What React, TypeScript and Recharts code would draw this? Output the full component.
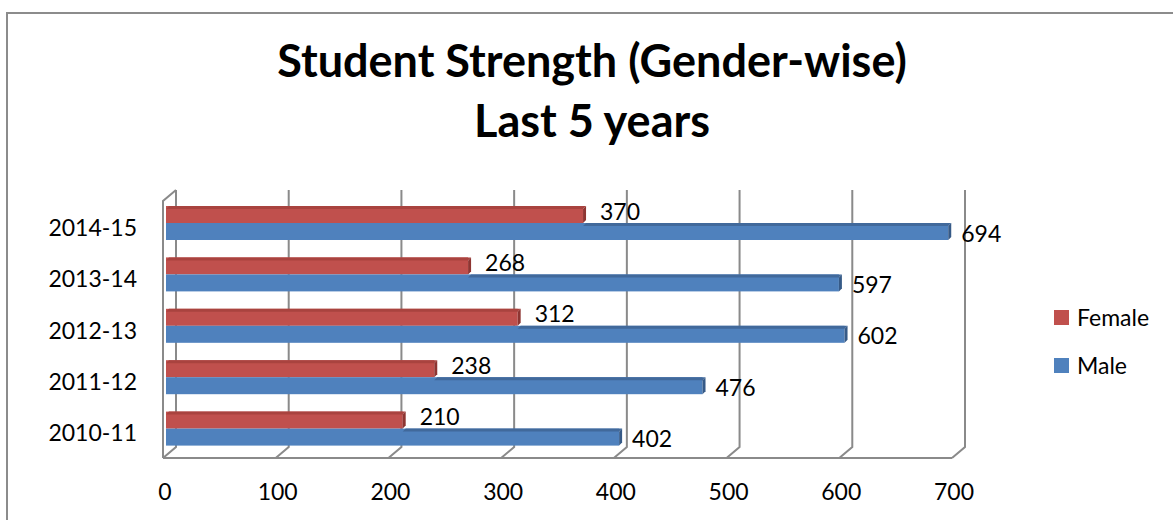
import React from 'react';
import { BarChart, Bar, XAxis, YAxis, CartesianGrid, LabelList } from 'recharts';

const years = ['2010-11', '2011-12', '2012-13', '2013-14', '2014-15'];
const female = [210, 238, 312, 268, 370];
const male = [402, 476, 602, 597, 694];
const xTicks = [0, 100, 200, 300, 400, 500, 600, 700];

const data = years.map((year, i) => ({ year, female: female[i], male: male[i] }));

const series = [
    { key: 'female', name: 'Female', front: '#C0504D', top: '#A9433F', side: '#8E3532' },
    { key: 'male', name: 'Male', front: '#4F81BD', top: '#41699B', side: '#365A87' },
];

const FONT = 'Lato, "Open Sans", sans-serif';
const FS = 23;
const GRID = '#8A8A8A';
// fake 3d: bevel of the bars, and how far the back wall sits from the floor edge
const DEPTH = 3;
const LIFT = 4;
const BACK_X = 10;
const BACK_Y = 11;
const FRONT_X = 3;

function barShape(s, coverKey) {
    return (props) => {
        const { x, width, height, payload } = props;
        const y = props.y - LIFT;
        if (!width || width <= 0) return <g />;
        const d = DEPTH;
        // the upper bar hides the top face of this one up to where it ends
        let tx = x;
        if (coverKey && payload[coverKey] < payload[s.key]) tx = x + (width * payload[coverKey]) / payload[s.key];
        return (
            <g>
                <rect x={x} y={y} width={width} height={height} fill={s.front} />
                <polygon
                    points={`${tx},${y + d} ${tx + d},${y} ${x + width + d},${y} ${x + width},${y + d}`}
                    fill={s.top}
                />
                <polygon
                    points={`${x + width},${y + d} ${x + width + d},${y} ${x + width + d},${y + height - d} ${x + width},${y + height}`}
                    fill={s.side}
                />
            </g>
        );
    };
}

const valueLabel = (dx, dy) => (props) => {
    const { x, y, width, height, value } = props;
    return (
        <text
            x={x + width + dx}
            y={y + height / 2 + dy}
            dominantBaseline="central"
            fontSize={FS}
            fontFamily={FONT}
            fill="#000"
        >
            {value}
        </text>
    );
};

const gridLine = (props) => {
    const { x1, y1, y2, index, x, width } = props;
    const bx = x1 + BACK_X;
    const fx = x1 - FRONT_X;
    return (
        <g>
            <polyline
                points={`${bx},${y1 - BACK_Y} ${bx},${y2 - BACK_Y} ${fx},${y2}`}
                fill="none"
                stroke={GRID}
                strokeWidth={2}
            />
            {index === 0 && (
                <>
                    <polyline
                        points={`${bx},${y1 - BACK_Y} ${fx},${y1} ${fx},${y2}`}
                        fill="none"
                        stroke={GRID}
                        strokeWidth={2}
                    />
                    <line x1={fx} y1={y2} x2={x + width - FRONT_X} y2={y2} stroke={GRID} strokeWidth={2} />
                </>
            )}
        </g>
    );
};

const xTick = (props) => (
    <text x={props.x - 1} y={props.y} textAnchor="middle" fontSize={FS} fontFamily={FONT} fill="#000">
        {props.payload.value}
    </text>
);

const yTick = (props) => (
    <text
        x={props.x}
        y={props.y}
        textAnchor="end"
        dominantBaseline="central"
        fontSize={FS}
        fontFamily={FONT}
        fill="#000"
    >
        {props.payload.value}
    </text>
);

export default function App() {
    return (
        <div style={{ position: 'fixed', inset: 0, overflow: 'hidden', background: '#fff' }}>
            <div
                style={{
                    position: 'absolute',
                    left: 6,
                    top: 12,
                    width: 1200,
                    height: 600,
                    border: '2px solid #8C8C8C',
                }}
            />
            <div
                style={{
                    position: 'absolute',
                    left: 0,
                    top: 30,
                    width: 1184,
                    textAlign: 'center',
                    fontFamily: FONT,
                    fontWeight: 700,
                    fontSize: 45,
                    lineHeight: '60px',
                    color: '#000',
                }}
            >
                Student Strength (Gender-wise)
                <br />
                Last 5 years
            </div>
            <div style={{ position: 'absolute', left: 0, top: 0 }}>
                <BarChart
                    width={1173}
                    height={520}
                    data={data}
                    layout="vertical"
                    barSize={17}
                    barGap={0}
                    margin={{ top: 201, right: 218, bottom: 2, left: 26 }}
                >
                    <CartesianGrid horizontal={false} vertical={gridLine} />
                    <XAxis
                        type="number"
                        domain={[0, 700]}
                        ticks={xTicks}
                        height={60}
                        axisLine={false}
                        tickLine={false}
                        tickSize={0}
                        tickMargin={42}
                        tick={xTick}
                    />
                    <YAxis
                        type="category"
                        dataKey="year"
                        reversed
                        width={140}
                        axisLine={false}
                        tickLine={false}
                        tickSize={0}
                        tickMargin={29}
                        tick={yTick}
                    />
                    <Bar dataKey="female" name="Female" fill={series[0].front} shape={barShape(series[0])} isAnimationActive={false}>
                        <LabelList dataKey="female" content={valueLabel(17, -8)} />
                    </Bar>
                    <Bar dataKey="male" name="Male" fill={series[1].front} shape={barShape(series[1], 'female')} isAnimationActive={false}>
                        <LabelList dataKey="male" content={valueLabel(13, -3)} />
                    </Bar>
                </BarChart>
            </div>
            {series.map((s, i) => (
                <div
                    key={s.key}
                    style={{
                        position: 'absolute',
                        left: 1054,
                        top: 302 + i * 48,
                        height: 30,
                        display: 'flex',
                        alignItems: 'center',
                        fontFamily: FONT,
                        fontSize: FS,
                        color: '#000',
                    }}
                >
                    <span style={{ width: 15, height: 15, background: s.front, marginRight: 8 }} />
                    {s.name}
                </div>
            ))}
        </div>
    );
}
